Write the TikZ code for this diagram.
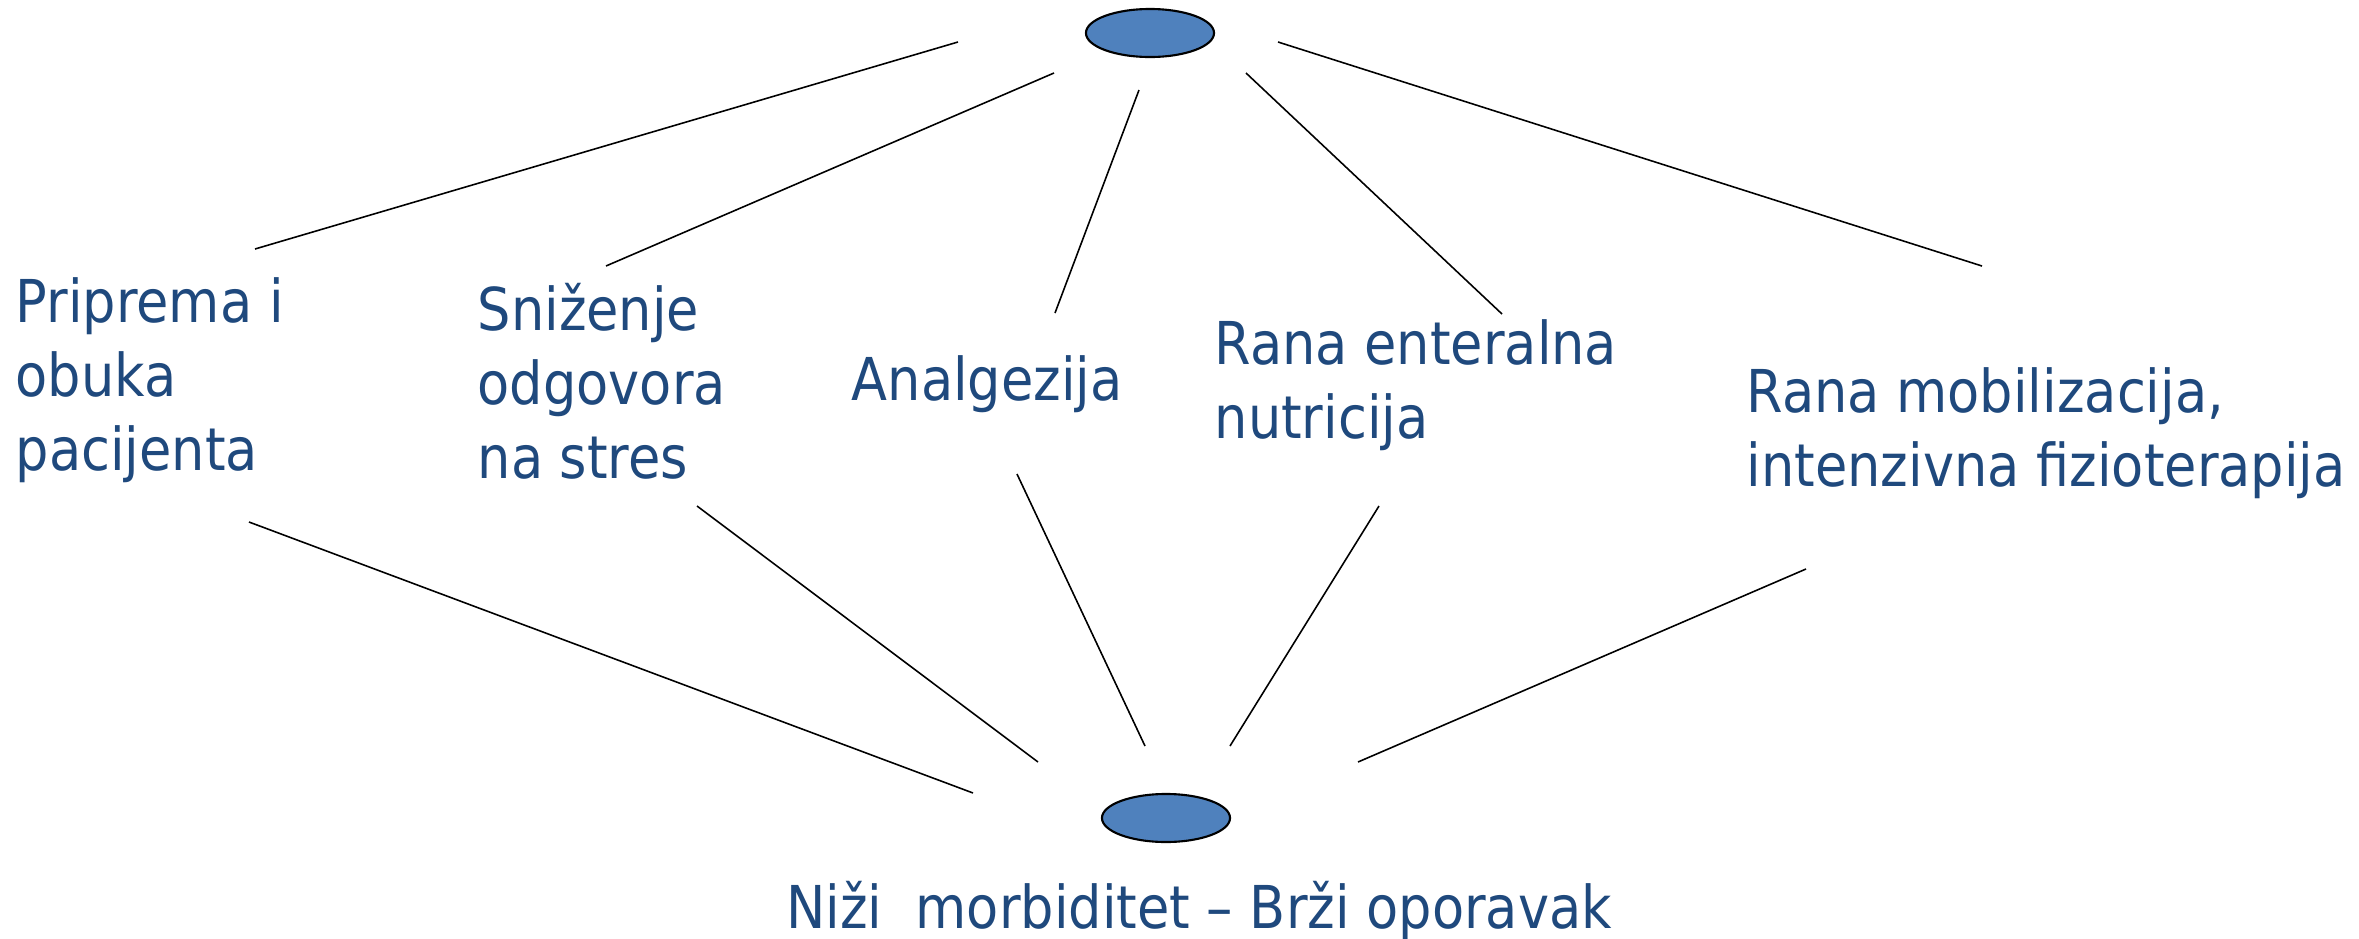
\documentclass[tikz,border=0pt]{standalone}
\usepackage{fontspec}
\setmainfont[FakeStretch=0.89]{DejaVu Sans}
\usepackage{tikz}
\usetikzlibrary{shapes.geometric}

\definecolor{ovalblue}{HTML}{4F81BD}
\definecolor{labelblue}{HTML}{1F497D}

\tikzset{
  oval/.style={ellipse, draw=black, line width=0.6pt, fill=ovalblue, minimum width=1.28cm, minimum height=0.48cm, inner sep=0},
  label text/.style={anchor=base west, inner sep=0, align=left, text=labelblue, font=\fontsize{16.8}{21}\selectfont},
  spoke/.style={line width=0.45pt}
}

\begin{document}
\begin{tikzpicture}[x=0.01cm, y=-0.01cm]
  \useasboundingbox (0,0) rectangle (2359,939);

  \node[oval] (top) at (1150,33) {};
  \node[oval] (bottom) at (1166,818) {};

  \node[label text] (priprema) at (15,470) {Priprema i\\obuka\\pacijenta};
  \node[label text] (stres) at (477,478) {Sniženje\\odgovora\\na stres};
  \node[label text] (analgezija) at (851,400) {Analgezija};
  \node[label text] (nutricija) at (1214,438) {Rana enteralna\\nutricija};
  \node[label text] (mobilizacija) at (1746,486) {Rana mobilizacija,\\intenzivna fizioterapija};
  \node[label text, anchor=base] (ishod) at (1199,928) {Niži\ \ morbiditet – Brži oporavak};

  \coordinate (t1a) at (958,42);   \coordinate (t1b) at (255,249);
  \coordinate (t2a) at (1054,73);  \coordinate (t2b) at (606,266);
  \coordinate (t3a) at (1139,90);  \coordinate (t3b) at (1055,313);
  \coordinate (t4a) at (1246,73);  \coordinate (t4b) at (1502,314);
  \coordinate (t5a) at (1278,42);  \coordinate (t5b) at (1982,266);

  \coordinate (b1a) at (249,522);  \coordinate (b1b) at (973,793);
  \coordinate (b2a) at (697,506);  \coordinate (b2b) at (1038,762);
  \coordinate (b3a) at (1017,474); \coordinate (b3b) at (1145,746);
  \coordinate (b4a) at (1379,506); \coordinate (b4b) at (1230,746);
  \coordinate (b5a) at (1806,569); \coordinate (b5b) at (1358,762);

  \foreach \i in {1,...,5} {
    \draw[spoke] (t\i a) -- (t\i b);
    \draw[spoke] (b\i a) -- (b\i b);
  }
\end{tikzpicture}
\end{document}
